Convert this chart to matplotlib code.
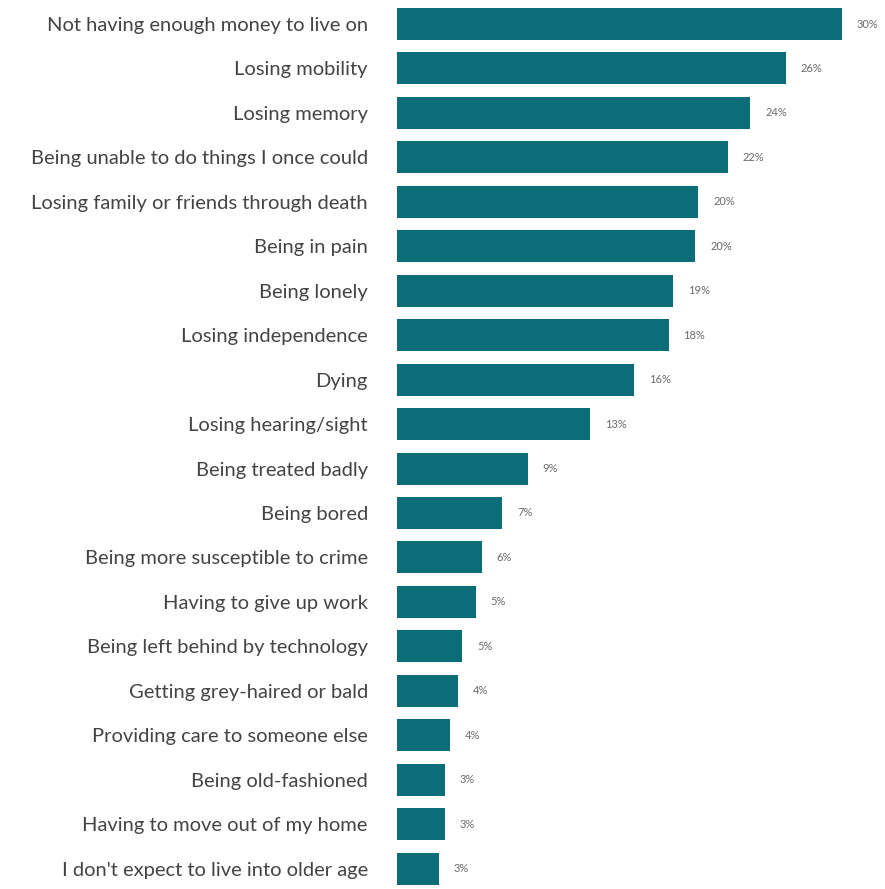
import matplotlib.pyplot as plt

# Worries about getting older
categories = [
    "Not having enough money to live on",
    "Losing mobility",
    "Losing memory",
    "Being unable to do things I once could",
    "Losing family or friends through death",
    "Being in pain",
    "Being lonely",
    "Losing independence",
    "Dying",
    "Losing hearing/sight",
    "Being treated badly",
    "Being bored",
    "Being more susceptible to crime",
    "Having to give up work",
    "Being left behind by technology",
    "Getting grey-haired or bald",
    "Providing care to someone else",
    "Being old-fashioned",
    "Having to move out of my home",
    "I don't expect to live into older age",
]
# bar lengths as drawn (unrounded) and the printed labels
values = [30.0, 26.2, 23.8, 22.3, 20.3, 20.1, 18.6, 18.3, 16.0, 13.0,
          8.8, 7.1, 5.7, 5.3, 4.4, 4.1, 3.6, 3.2, 3.2, 2.8]
labels = ["30%", "26%", "24%", "22%", "20%", "20%", "19%", "18%", "16%", "13%",
          "9%", "7%", "6%", "5%", "5%", "4%", "4%", "3%", "3%", "3%"]

bar_color = "#0b6d78"

fig = plt.figure(figsize=(8.85, 8.89), dpi=100)
ax = fig.add_axes([0.4486, 0.0, 0.545, 1.0])

y = list(range(len(categories)))
ax.barh(y, values, height=0.72, color=bar_color)

for yi, v, lab in zip(y, values, labels):
    ax.text(v + 1.0, yi, lab, va="center", ha="left", fontsize=8,
            color="#6a6a6a", family="Lato")

ax.set_xlim(0, 32.5)
ax.set_ylim(19.46, -0.54)
ax.set_yticks(y)
ax.set_yticklabels(categories, fontsize=14.5, color="#444444", family="Lato")
ax.tick_params(axis="y", length=0, pad=21)
ax.set_xticks([])
for s in ax.spines.values():
    s.set_visible(False)

fig.savefig("out.png", dpi=100)
